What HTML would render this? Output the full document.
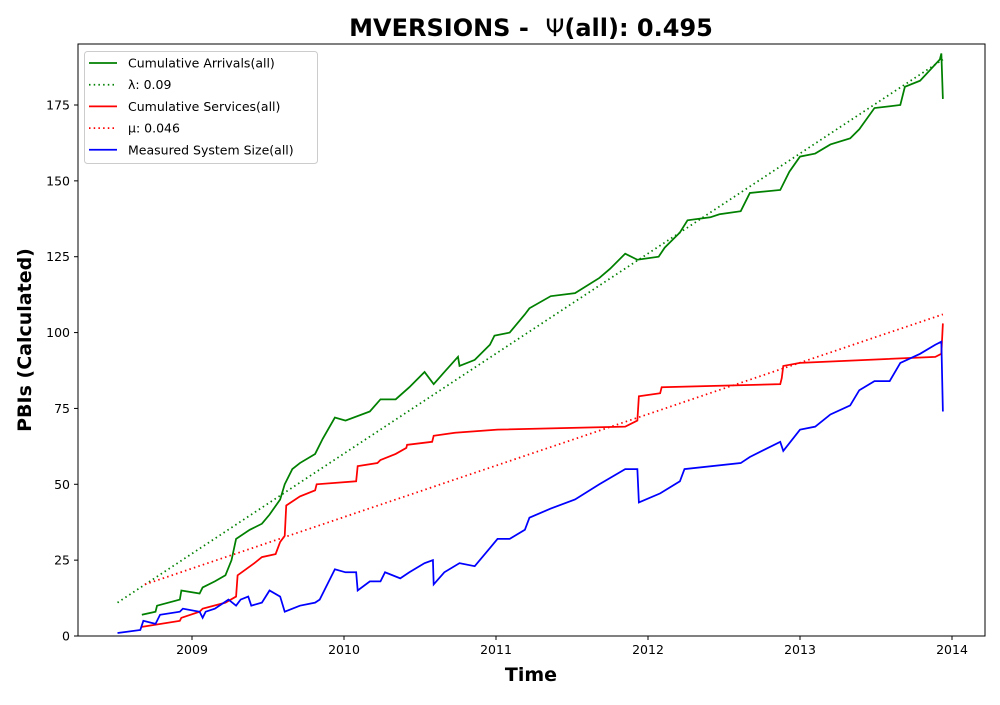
<!DOCTYPE html>
<html><head><meta charset="utf-8"><style>
body{margin:0;background:#fff;}
svg{font-family:"DejaVu Sans","Liberation Sans",sans-serif;}
</style></head><body>
<svg id="chart" width="1000" height="700" xmlns="http://www.w3.org/2000/svg">
<rect width="1000" height="700" fill="#fff"/>
<text x="531" y="36" text-anchor="middle" font-size="24" font-weight="bold" style="white-space:pre">MVERSIONS -  <tspan font-weight="normal">Ψ</tspan>(all): 0.495</text>
<text transform="translate(31,340) rotate(-90)" text-anchor="middle" font-size="19" font-weight="bold">PBIs (Calculated)</text>
<text x="531" y="681" text-anchor="middle" font-size="19" font-weight="bold">Time</text>
<g id="plot"></g>
<rect x="78" y="44" width="907" height="592" fill="none" stroke="#000" stroke-width="1"/>
<g id="legend"></g>
</svg>
<script>
const arrivalsT=[2008.67,2008.76,2008.77,2008.92,2008.93,2009.05,2009.07,2009.15,2009.22,2009.26,2009.29,2009.38,2009.46,2009.51,2009.58,2009.61,2009.66,2009.71,2009.81,2009.86,2009.94,2010.01,2010.17,2010.24,2010.34,2010.43,2010.53,2010.59,2010.66,2010.75,2010.76,2010.86,2010.96,2010.99,2011.09,2011.19,2011.22,2011.36,2011.52,2011.68,2011.75,2011.85,2011.93,2012.07,2012.11,2012.21,2012.26,2012.41,2012.47,2012.61,2012.67,2012.87,2012.93,2013.00,2013.10,2013.20,2013.33,2013.39,2013.49,2013.66,2013.69,2013.79,2013.92,2013.93,2013.94];
const arrivalsV=[7,8,10,12,15,14,16,18,20,25,32,35,37,40,45,50,55,57,60,65,72,71,74,78,78,82,87,83,87,92,89,91,96,99,100,106,108,112,113,118,121,126,124,125,128,133,137,138,139,140,146,147,153,158,159,162,164,167,174,175,181,183,190,192,177];
const servicesT=[2008.67,2008.92,2008.93,2009.05,2009.07,2009.22,2009.29,2009.30,2009.41,2009.46,2009.55,2009.58,2009.61,2009.62,2009.71,2009.81,2009.82,2010.08,2010.09,2010.22,2010.24,2010.34,2010.41,2010.415,2010.58,2010.59,2010.73,2011.01,2011.85,2011.93,2011.94,2012.08,2012.09,2012.87,2012.88,2012.89,2013.00,2013.89,2013.93,2013.94];
const servicesV=[3,5,6,8,9,11,13,20,24,26,27,31,33,43,46,48,50,51,56,57,58,60,62,63,64,66,67,68,69,71,79,80,82,83,85,89,90,92,93,103];
const sizeT=[2008.51,2008.66,2008.68,2008.76,2008.79,2008.92,2008.94,2009.05,2009.07,2009.09,2009.15,2009.24,2009.29,2009.32,2009.37,2009.39,2009.46,2009.51,2009.58,2009.61,2009.71,2009.81,2009.84,2009.94,2010.01,2010.08,2010.09,2010.17,2010.24,2010.27,2010.37,2010.43,2010.53,2010.585,2010.59,2010.66,2010.76,2010.86,2010.96,2011.01,2011.09,2011.19,2011.22,2011.36,2011.52,2011.68,2011.85,2011.93,2011.94,2012.08,2012.21,2012.24,2012.61,2012.67,2012.87,2012.89,2013.00,2013.10,2013.20,2013.33,2013.39,2013.49,2013.59,2013.66,2013.79,2013.89,2013.93,2013.94];
const sizeV=[1,2,5,4,7,8,9,8,6,8,9,12,10,12,13,10,11,15,13,8,10,11,12,22,21,21,15,18,18,21,19,21,24,25,17,21,24,23,29,32,32,35,39,42,45,50,55,55,44,47,51,55,57,59,64,61,68,69,73,76,81,84,84,90,93,96,97,74];
const lambdaT=[2008.51,2013.94], lambdaV=[11,190];
const muT=[2008.69,2013.94], muV=[17,106];
const yTicks=[0,25,50,75,100,125,150,175];
const xTicks=[2009,2010,2011,2012,2013,2014];

const NS="http://www.w3.org/2000/svg";
const X=t=>192+(t-2009)*152;
const Y=v=>636-v*(531/175);
const plot=document.getElementById('plot');
function mk(tag,attrs,parent){const e=document.createElementNS(NS,tag);for(const k in attrs)e.setAttribute(k,attrs[k]);parent.appendChild(e);return e;}
yTicks.forEach(v=>{
  const g=mk('g',{},plot);
  
  
  mk('line',{x1:74,x2:78,y1:Y(v),y2:Y(v),stroke:'#000'},g);
  const t=mk('text',{x:70,y:Y(v)+4.5,'text-anchor':'end','font-size':12.5},g);t.textContent=v;
});
xTicks.forEach(v=>{
  const g=mk('g',{},plot);
  
  
  mk('line',{x1:X(v),x2:X(v),y1:636,y2:640,stroke:'#000'},g);
  const t=mk('text',{x:X(v),y:654,'text-anchor':'middle','font-size':12.5},g);t.textContent=v;
});
function series(T,V,color,dash,name){
  const p=mk('polyline',{points:T.map((t,i)=>X(t)+','+Y(V[i])).join(' '),fill:'none',stroke:color,'stroke-width':1.75},plot);
  if(dash)p.setAttribute('stroke-dasharray','1.5,3.2');
  
  
}
series(lambdaT,lambdaV,'green',true,'lambda-line');
series(muT,muV,'red',true,'mu-line');
series(arrivalsT,arrivalsV,'green',false,'cumulative-arrivals-line');
series(servicesT,servicesV,'red',false,'cumulative-services-line');
series(sizeT,sizeV,'blue',false,'system-size-line');

const lg=document.getElementById('legend');
mk('rect',{x:84.5,y:51.5,width:233,height:112,rx:3,fill:'#fff',stroke:'#ccc','fill-opacity':0.8},lg);
const entries=[['green',false,'Cumulative Arrivals(all)','legend-arrivals'],['green',true,'λ: 0.09','legend-lambda'],['red',false,'Cumulative Services(all)','legend-services'],['red',true,'μ: 0.046','legend-mu'],['blue',false,'Measured System Size(all)','legend-system-size']];
entries.forEach((e,i)=>{
  const y=63+i*21.7;
  const g=mk('g',{},lg);
  
  
  const l=mk('line',{x1:89,x2:117,y1:y,y2:y,stroke:e[0],'stroke-width':1.75},g);
  if(e[1])l.setAttribute('stroke-dasharray','1.5,3.2');
  const t=mk('text',{x:128,y:y+4.5,'font-size':12.5},g);t.textContent=e[2];
});
</script>
</body></html>
